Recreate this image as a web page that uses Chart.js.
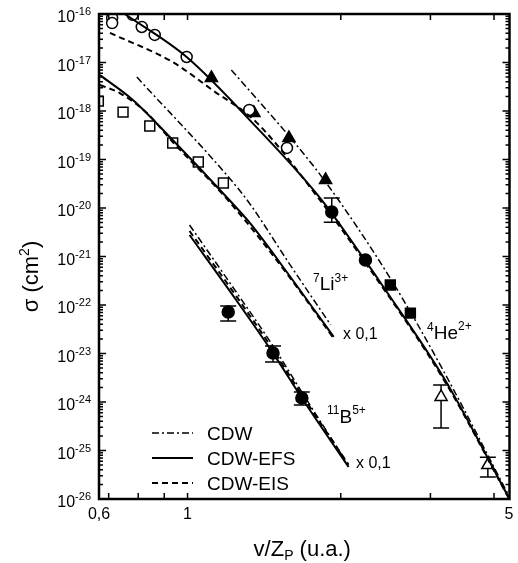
<!DOCTYPE html>
<html>
<head>
<meta charset="utf-8">
<script src="https://cdn.jsdelivr.net/npm/chart.js@4.4.1/dist/chart.umd.min.js"></script>
<style>
  html, body { margin: 0; padding: 0; background: #fff; }
  #grafico { display: block; }
</style>
</head>
<body>
<canvas id="grafico" width="518" height="563"></canvas>
<script>
// limites dos eixos
const xMin = 0.67;
const xMax = 4.29;
const yMin = 1e-26;
const yMax = 1e-16;

const xTickValues = [0.7, 0.8, 0.9, 1, 2, 3, 4];
const xLabelValues = [0.67, 1, 4.29];
const xLabelTexts = ['0,6', '1', '5'];
const yExponents = [-16, -17, -18, -19, -20, -21, -22, -23, -24, -25, -26];

// 4He2+ : curvas teóricas
const heEfsX = [0.753, 0.996, 1.364, 1.835, 2.236, 2.426, 3.206, 4.29];
const heEfsY = [1.0e-16, 1.3e-17, 4.7e-19, 1.46e-20, 8.1e-22, 2.35e-22, 2.84e-24, 1.0e-26];
const heCdwX = [1.219, 1.582, 1.867, 2.514, 3.175, 4.29];
const heCdwY = [7.0e-18, 3.05e-19, 3.44e-20, 3.27e-22, 4.57e-24, 1.1e-26];
const heEisX = [0.704, 0.935, 1.119, 1.364, 1.835, 2.236, 3.206, 4.29];
const heEisY = [4.07e-17, 1.02e-17, 2.71e-18, 5.9e-19, 1.3e-20, 7.4e-22, 2.6e-24, 9.8e-27];

// 4He2+ : dados experimentais
const heCircX = [0.711, 0.711, 0.78, 0.813, 0.862, 0.996, 1.322, 1.568];
const heCircY = [8.3e-17, 6.5e-17, 9.6e-17, 5.4e-17, 3.7e-17, 1.3e-17, 1.05e-18, 1.73e-19];
const heTriX = [1.114, 1.35, 1.582, 1.867];
const heTriY = [4.8e-18, 9.1e-19, 2.77e-19, 3.8e-20];
const heDotX = [1.92, 2.236];
const heDotY = [8.3e-21, 8.5e-22];
const heDotLo = [5.1e-21, null];
const heDotHi = [1.6e-20, null];
const heSqX = [2.502, 2.74];
const heSqY = [2.58e-22, 6.8e-23];
const heOpenTriX = [3.148, 3.89];
const heOpenTriY = [1.27e-24, 5.0e-26];
const heOpenTriLo = [2.9e-25, 2.85e-26];
const heOpenTriHi = [2.24e-24, 7.3e-26];

// 7Li3+ (x 0,1)
const liEfsX = [0.673, 0.781, 0.935, 1.208, 1.322, 1.582, 1.937];
const liEfsY = [5.5e-18, 1.69e-18, 2.52e-19, 1.46e-20, 5.1e-21, 4.16e-22, 2.2e-23];
const liEisX = [0.673, 0.736, 0.832, 0.935, 1.208, 1.582, 1.937];
const liEisY = [3.44e-18, 2.34e-18, 9.1e-19, 2.3e-19, 1.35e-20, 3.9e-22, 2.05e-23];
const liCdwX = [0.795, 1.208, 1.322, 1.582, 1.91];
const liCdwY = [5.0e-18, 4.16e-20, 1.27e-20, 7.3e-22, 3.9e-23];
const liSqX = [0.668, 0.747, 0.843, 0.935, 1.05, 1.176];
const liSqY = [1.6e-18, 9.5e-19, 4.9e-19, 2.19e-19, 8.9e-20, 3.27e-20];

// 11B5+ (x 0,1)
const bEfsX = [1.009, 1.246, 1.472, 1.677, 2.072];
const bEfsY = [2.77e-21, 1.27e-22, 1.02e-23, 1.21e-24, 4.57e-26];
const bEisX = [1.009, 1.246, 1.472, 1.677, 2.072];
const bEisY = [3.36e-21, 1.53e-22, 1.2e-23, 1.4e-24, 5.1e-26];
const bCdwX = [1.009, 1.246, 1.472, 1.677, 2.05];
const bCdwY = [4.47e-21, 1.86e-22, 1.43e-23, 1.6e-24, 5.8e-26];
const bDotX = [1.202, 1.472, 1.677];
const bDotY = [7.2e-23, 1.02e-23, 1.21e-24];
const bDotLo = [4.7e-23, 6.7e-24, 8.7e-25];
const bDotHi = [9.5e-23, 1.43e-23, 1.6e-24];

const legendNames = ['CDW', 'CDW-EFS', 'CDW-EIS'];

const FONT = '"Liberation Sans", Arial, sans-serif';
const DASH_DOT = [7, 3, 2, 3];
const DASHED = [6, 4];

function pts(xs, ys) {
    return xs.map((x, i) => ({ x: x, y: ys[i] }));
}

function curve(xs, ys, dash, width) {
    return {
        data: pts(xs, ys),
        showLine: true,
        borderColor: '#000',
        borderWidth: width,
        borderDash: dash,
        pointRadius: 0,
        cubicInterpolationMode: 'monotone',
        fill: false
    };
}

function marks(xs, ys, style, r, filled) {
    return {
        data: pts(xs, ys),
        showLine: false,
        pointStyle: style,
        pointRadius: r,
        pointBackgroundColor: filled ? '#000' : '#fff',
        pointBorderColor: '#000',
        pointBorderWidth: 1.5
    };
}

const errorSets = [
    { xs: heDotX, lo: heDotLo, hi: heDotHi },
    { xs: heOpenTriX, lo: heOpenTriLo, hi: heOpenTriHi },
    { xs: bDotX, lo: bDotLo, hi: bDotHi }
];

// texto com sobrescritos: partes [texto, tamanho, deslocamento]
function drawRich(ctx, x, y, parts, align) {
    let total = 0;
    parts.forEach(p => { ctx.font = p[1] + 'px ' + FONT; total += ctx.measureText(p[0]).width; });
    let cx = x;
    if (align === 'center') cx = x - total / 2;
    if (align === 'right') cx = x - total;
    parts.forEach(p => {
        ctx.font = p[1] + 'px ' + FONT;
        ctx.fillText(p[0], cx, y + (p[2] || 0));
        cx += ctx.measureText(p[0]).width;
    });
}

const decorations = {
    id: 'decorations',
    beforeDatasetsDraw(chart) {
        const ctx = chart.ctx;
        const xs = chart.scales.x, ys = chart.scales.y;
        ctx.save();
        ctx.strokeStyle = '#000';
        ctx.lineWidth = 1.5;
        errorSets.forEach(s => {
            s.xs.forEach((xv, i) => {
                if (s.lo[i] == null) return;
                const px = xs.getPixelForValue(xv);
                const top = ys.getPixelForValue(s.hi[i]);
                const bot = ys.getPixelForValue(s.lo[i]);
                ctx.beginPath();
                ctx.moveTo(px, top); ctx.lineTo(px, bot);
                ctx.moveTo(px - 8, top); ctx.lineTo(px + 8, top);
                ctx.moveTo(px - 8, bot); ctx.lineTo(px + 8, bot);
                ctx.stroke();
            });
        });
        ctx.restore();
    },
    afterDraw(chart) {
        const ctx = chart.ctx;
        const a = chart.chartArea;
        const xs = chart.scales.x, ys = chart.scales.y;
        ctx.save();
        ctx.strokeStyle = '#000';
        ctx.fillStyle = '#000';

        // moldura
        ctx.lineWidth = 2.5;
        ctx.strokeRect(a.left, a.top, a.right - a.left, a.bottom - a.top);

        // marcas do eixo y (para dentro, dos dois lados)
        ctx.lineWidth = 1.5;
        ctx.beginPath();
        yExponents.forEach(e => {
            const py = ys.getPixelForValue(Math.pow(10, e));
            ctx.moveTo(a.left, py); ctx.lineTo(a.left + 7, py);
            ctx.moveTo(a.right, py); ctx.lineTo(a.right - 7, py);
            if (e > -26) {
                for (let m = 2; m <= 9; m++) {
                    const pm = ys.getPixelForValue(m * Math.pow(10, e - 1));
                    ctx.moveTo(a.left, pm); ctx.lineTo(a.left + 4, pm);
                    ctx.moveTo(a.right, pm); ctx.lineTo(a.right - 4, pm);
                }
            }
        });
        // marcas do eixo x
        xTickValues.forEach(v => {
            const px = xs.getPixelForValue(v);
            ctx.moveTo(px, a.bottom); ctx.lineTo(px, a.bottom - 6);
            ctx.moveTo(px, a.top); ctx.lineTo(px, a.top + 6);
        });
        ctx.stroke();

        // rótulos do eixo y: 10^n
        ctx.textBaseline = 'alphabetic';
        ctx.textAlign = 'left';
        yExponents.forEach(e => {
            const py = ys.getPixelForValue(Math.pow(10, e));
            ctx.font = '11px ' + FONT;
            const w = ctx.measureText(String(e)).width;
            const right = a.left - 8;
            ctx.fillText(String(e), right - w, py + 1);
            ctx.font = '16px ' + FONT;
            const w10 = ctx.measureText('10').width;
            ctx.fillText('10', right - w - w10, py + 8);
        });

        // rótulos do eixo x
        ctx.font = '16px ' + FONT;
        ctx.textAlign = 'center';
        xLabelValues.forEach((v, i) => {
            const px = xs.getPixelForValue(v);
            ctx.fillText(xLabelTexts[i], Math.min(px, 509), a.bottom + 20);
        });
        ctx.textAlign = 'left';

        // títulos dos eixos
        drawRich(ctx, (a.left + a.right) / 2 - 2, a.bottom + 57,
            [['v/Z', 22, 0], ['P', 14, 4], [' (u.a.)', 22, 0]], 'center');
        ctx.save();
        ctx.translate(38, (a.top + a.bottom) / 2 + 20);
        ctx.rotate(-Math.PI / 2);
        drawRich(ctx, 0, 0, [['\u03c3 (cm', 22, 0], ['2', 14, -9], [')', 22, 0]], 'center');
        ctx.restore();

        // anotações das curvas
        drawRich(ctx, 313, 290, [['7', 12, -8], ['Li', 19, 0], ['3+', 12, -8]], 'left');
        drawRich(ctx, 343, 339, [['x 0,1', 16, 0]], 'left');
        drawRich(ctx, 427, 339, [['4', 12, -8], ['He', 19, 0], ['2+', 12, -9]], 'left');
        drawRich(ctx, 327, 423, [['11', 12, -9], ['B', 19, 0], ['5+', 12, -9]], 'left');
        drawRich(ctx, 356, 468, [['x 0,1', 16, 0]], 'left');

        // legenda
        const styles = [[DASH_DOT, 1.5], [[], 2], [DASHED, 2]];
        legendNames.forEach((name, i) => {
            const ly = 433 + i * 25;
            ctx.beginPath();
            ctx.setLineDash(styles[i][0]);
            ctx.lineWidth = styles[i][1];
            ctx.moveTo(152, ly); ctx.lineTo(193, ly);
            ctx.stroke();
            ctx.setLineDash([]);
            ctx.font = '19px ' + FONT;
            ctx.fillText(name, 207, ly + 7);
        });
        ctx.restore();
    }
};

const canvas = document.getElementById('grafico');
const ctx = canvas.getContext('2d');

const myChart = new Chart(ctx, {
    type: 'scatter',
    data: {
        datasets: [
            curve(heEisX, heEisY, DASHED, 2),
            curve(heCdwX, heCdwY, DASH_DOT, 1.5),
            curve(heEfsX, heEfsY, [], 2),
            curve(liEisX, liEisY, DASHED, 2),
            curve(liCdwX, liCdwY, DASH_DOT, 1.5),
            curve(liEfsX, liEfsY, [], 2),
            curve(bEisX, bEisY, DASHED, 2),
            curve(bCdwX, bCdwY, DASH_DOT, 1.5),
            curve(bEfsX, bEfsY, [], 2),
            marks(heCircX, heCircY, 'circle', 5.5, false),
            marks(heTriX, heTriY, 'triangle', 7, true),
            marks(heDotX, heDotY, 'circle', 6, true),
            marks(heSqX, heSqY, 'rect', 7, true),
            marks(heOpenTriX, heOpenTriY, 'triangle', 7, false),
            marks(liSqX, liSqY, 'rect', 7, false),
            marks(bDotX, bDotY, 'circle', 6, true)
        ]
    },
    options: {
        responsive: false,
        animation: false,
        devicePixelRatio: 1,
        layout: {
            padding: { left: 99, right: 6, top: 14, bottom: 64 }
        },
        scales: {
            x: { type: 'logarithmic', min: xMin, max: xMax, display: false },
            y: { type: 'logarithmic', min: yMin, max: yMax, display: false }
        },
        plugins: {
            legend: { display: false },
            tooltip: { enabled: false }
        }
    },
    plugins: [decorations]
});
</script>
</body>
</html>
